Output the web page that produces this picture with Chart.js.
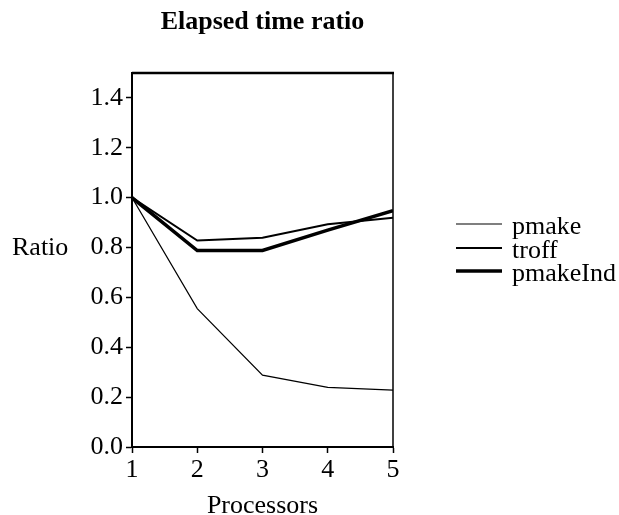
<!DOCTYPE html>
<html>
<head>
<meta charset="utf-8">
<script src="https://cdn.jsdelivr.net/npm/chart.js@4"></script>
<style>
  html, body { margin: 0; padding: 0; background: #fff; }
  #wrap { width: 619px; height: 515px; }
</style>
</head>
<body>
<div id="wrap"><canvas id="chart" width="619" height="515"></canvas></div>
<script>
const processors = [1, 2, 3, 4, 5];
const pmake = [1.0, 0.555, 0.288, 0.239, 0.228];
const troff = [1.0, 0.828, 0.839, 0.893, 0.919];
const pmakeInd = [1.0, 0.788, 0.788, 0.87, 0.948];
const yTicks = [0.0, 0.2, 0.4, 0.6, 0.8, 1.0, 1.2, 1.4];

const FONT = 'Liberation Serif';
Chart.defaults.font.family = FONT;
Chart.defaults.font.size = 26;
Chart.defaults.color = '#000';

function toPoints(values) {
  return processors.map((p, i) => ({ x: p, y: values[i] }));
}

// title, "Ratio" label, legend and the top/right frame lines
const extras = {
  id: 'extras',
  afterDatasetsDraw(chart) {
    const ctx = chart.ctx;
    const area = chart.chartArea;
    ctx.save();
    ctx.strokeStyle = '#000';
    ctx.lineWidth = 2.5;
    ctx.beginPath();
    ctx.moveTo(area.left, area.top);
    ctx.lineTo(area.right + 1, area.top);
    ctx.stroke();
    ctx.lineWidth = 1.5;
    ctx.beginPath();
    ctx.moveTo(area.right, area.top);
    ctx.lineTo(area.right, area.bottom);
    ctx.stroke();

    ctx.fillStyle = '#000';
    ctx.font = 'bold 26px ' + FONT;
    ctx.textAlign = 'center';
    ctx.textBaseline = 'middle';
    ctx.fillText('Elapsed time ratio', (area.left + area.right) / 2, 22);

    ctx.font = '26px ' + FONT;
    ctx.textAlign = 'left';
    ctx.fillText('Ratio', 12, 248);

    const rows = [224, 248, 271];
    chart.data.datasets.forEach((ds, i) => {
      ctx.lineWidth = ds.borderWidth;
      ctx.beginPath();
      ctx.moveTo(456, rows[i]);
      ctx.lineTo(502, rows[i]);
      ctx.stroke();
      ctx.textBaseline = 'alphabetic';
      ctx.fillText(ds.label, 512, rows[i] + 10);
    });
    ctx.restore();
  }
};

new Chart(document.getElementById('chart'), {
  type: 'line',
  data: {
    datasets: [
      { label: 'pmake', data: toPoints(pmake), borderWidth: 1.2, order: 3 },
      { label: 'troff', data: toPoints(troff), borderWidth: 2, order: 2 },
      { label: 'pmakeInd', data: toPoints(pmakeInd), borderWidth: 3.5, order: 1 }
    ].map(ds => Object.assign(ds, {
      borderColor: '#000',
      backgroundColor: '#000',
      pointRadius: 0,
      tension: 0,
      fill: false
    }))
  },
  options: {
    responsive: false,
    animation: false,
    layout: { padding: { left: 0, top: 73, right: 226, bottom: 0 } },
    plugins: {
      legend: { display: false },
      title: { display: false },
      tooltip: { enabled: false }
    },
    scales: {
      x: {
        type: 'linear',
        min: 1,
        max: 5,
        ticks: { stepSize: 1, padding: 2, font: { size: 26 } },
        grid: { drawOnChartArea: false, tickLength: 6, tickColor: '#000', tickWidth: 1.5 },
        border: { display: true, color: '#000', width: 2 },
        title: { display: true, text: 'Processors', font: { size: 26, lineHeight: 0.65 }, padding: 0 },
        afterFit(scale) { scale.height = 68; }
      },
      y: {
        min: 0,
        max: 1.5,
        afterBuildTicks(scale) { scale.ticks = yTicks.map(v => ({ value: v })); },
        ticks: { padding: 3, font: { size: 26 }, callback: v => Number(v).toFixed(1) },
        grid: { drawOnChartArea: false, tickLength: 6, tickColor: '#000', tickWidth: 1.5 },
        border: { display: true, color: '#000', width: 2 },
        afterFit(scale) { scale.width = 132; }
      }
    }
  },
  plugins: [extras]
});
</script>
</body>
</html>
